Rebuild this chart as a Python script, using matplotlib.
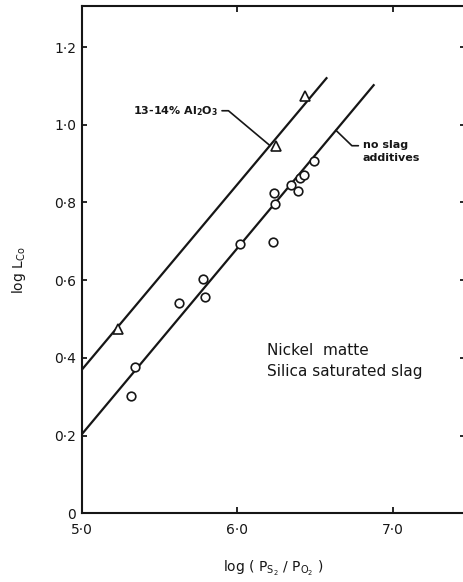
import numpy as np
import matplotlib
matplotlib.use('Agg')
import matplotlib.pyplot as plt

# measured distribution data, log(pS2/pO2) vs log L_Co
alumina_x = [5.231, 6.249, 6.435]
alumina_y = [0.474, 0.945, 1.075]

plain_x = [5.319, 5.345, 5.623, 5.778, 5.792, 6.017, 6.227, 6.238, 6.242,
           6.343, 6.388, 6.403, 6.427, 6.493]
plain_y = [0.303, 0.377, 0.540, 0.602, 0.556, 0.692, 0.697, 0.825, 0.796,
           0.844, 0.830, 0.862, 0.870, 0.907]

# fitted lines (end points)
alumina_line_x = [5.0, 6.578]
alumina_line_y = [0.369, 1.122]
plain_line_x = [5.0, 6.881]
plain_line_y = [0.203, 1.104]

xticks = [5.0, 6.0, 7.0]
xtick_labels = ['5\u00b70', '6\u00b70', '7\u00b70']
yticks = [0, 0.2, 0.4, 0.6, 0.8, 1.0, 1.2]
ytick_labels = ['0', '0\u00b72', '0\u00b74', '0\u00b76', '0\u00b78', '1\u00b70', '1\u00b72']

ink = '#161616'

fig = plt.figure(figsize=(4.64, 5.82), dpi=100)
ax = fig.add_axes([0.176, 0.118, 0.826, 0.872])

ax.plot(alumina_line_x, alumina_line_y, color=ink, lw=1.6, solid_capstyle='butt')
ax.plot(plain_line_x, plain_line_y, color=ink, lw=1.6, solid_capstyle='butt')
ax.plot(alumina_x, alumina_y, linestyle='none', marker='^', ms=6.5,
        mfc='white', mec=ink, mew=1.2)
ax.plot(plain_x, plain_y, linestyle='none', marker='o', ms=6.2,
        mfc='white', mec=ink, mew=1.2)

ax.set_xlim(5.0, 7.463)
ax.set_ylim(0, 1.306)

# leader labels
x_a = 6.21
ax.annotate(r'13-14% Al$_\mathbf{2}$O$_\mathbf{3}$',
            xy=(x_a, np.interp(x_a, alumina_line_x, alumina_line_y)),
            xytext=(5.875, 1.036), ha='right', va='center',
            fontsize=8, fontweight='bold', color=ink,
            arrowprops=dict(arrowstyle='-', color=ink, lw=1.2,
                            shrinkA=1, shrinkB=0, relpos=(1, 0.5),
                            connectionstyle='angle,angleA=0,angleB=-40,rad=0'))

x_b = 6.634
ax.annotate('no slag\nadditives',
            xy=(x_b, np.interp(x_b, plain_line_x, plain_line_y)),
            xytext=(6.805, 0.931), ha='left', va='center',
            fontsize=8, fontweight='bold', color=ink, linespacing=1.3,
            arrowprops=dict(arrowstyle='-', color=ink, lw=1.2,
                            shrinkA=1, shrinkB=0, relpos=(0, 0.76),
                            connectionstyle='angle,angleA=0,angleB=-44,rad=0'))

ax.text(6.189, 0.392, 'Nickel  matte\nSilica saturated slag', ha='left',
        va='center', fontsize=11, color=ink, linespacing=1.45)

ax.set_xticks(xticks)
ax.set_xticklabels(xtick_labels)
ax.set_yticks(yticks)
ax.set_yticklabels(ytick_labels)
ax.tick_params(axis='x', direction='in', length=4.5, width=1.3, pad=7,
               labelsize=10, colors=ink, top=True)
ax.tick_params(axis='y', direction='in', length=3.5, width=1.3, pad=4,
               labelsize=10, colors=ink, right=True)
for side in ['left', 'bottom', 'top']:
    ax.spines[side].set_linewidth(1.5)
    ax.spines[side].set_color(ink)
# right frame edge falls outside the page; only its ticks show
ax.spines['right'].set_visible(False)

ax.set_xlabel(r'log ( P$_{\mathrm{S}_2}$ / P$_{\mathrm{O}_2}$ )', fontsize=10,
              color=ink, labelpad=16)
ax.set_ylabel(r'log L$_{\mathrm{Co}}$', fontsize=10, color=ink)
ax.yaxis.set_label_coords(-0.14, 0.48)

fig.savefig('out.png', dpi=100, facecolor='white')
